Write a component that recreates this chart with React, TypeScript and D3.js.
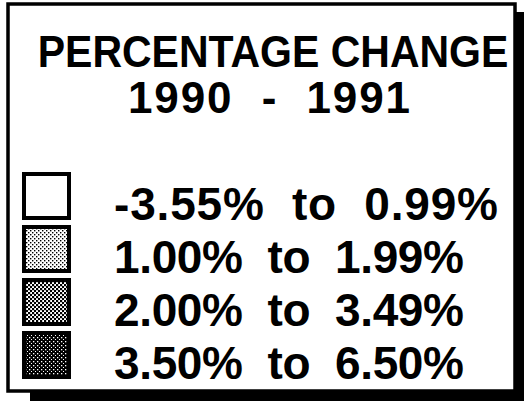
import React from 'react';
import * as d3 from 'd3';

const titleLines = ['PERCENTAGE CHANGE', '1990  -  1991'];
const classes = ['c1', 'c2', 'c3', 'c4'];
const lows = ['-3.55%', '1.00%', '2.00%', '3.50%'];
const highs = ['0.99%', '1.99%', '3.49%', '6.50%'];
const fills = ['#ffffff', 'url(#dotLight)', 'url(#dotMid)', 'url(#dotDark)'];

const W = 527;
const H = 402;
const font = '"Liberation Sans", Arial, Helvetica, sans-serif';

const App = () => {
  // baseline of each legend row
  const y = d3.scalePoint().domain(classes).range([220, 379]);
  const sw = 47;

  return (
    <svg width={W} height={H} style={{ position: 'absolute', left: 0, top: 0, background: '#fff' }}>
      <defs>
        <pattern id="dotLight" width="4" height="4" patternUnits="userSpaceOnUse">
          <rect width="4" height="4" fill="#fff" />
          <rect x="0" y="0" width="1.4" height="1.4" fill="#000" />
          <rect x="2" y="2" width="1.4" height="1.4" fill="#000" />
        </pattern>
        <pattern id="dotMid" width="4" height="4" patternUnits="userSpaceOnUse">
          <rect width="4" height="4" fill="#fff" />
          <rect x="0" y="0" width="2.2" height="2.2" fill="#000" />
          <rect x="2" y="2" width="2.2" height="2.2" fill="#000" />
        </pattern>
        <pattern id="dotDark" width="4" height="4" patternUnits="userSpaceOnUse">
          <rect width="4" height="4" fill="#000" />
          <rect x="1" y="1" width="1.3" height="1.3" fill="#fff" />
          <rect x="3" y="3" width="1" height="1" fill="#fff" />
        </pattern>
      </defs>

      {/* drop shadow */}
      <rect x={514} y={12} width={10} height={389} fill="#000" />
      <rect x={30} y={391} width={494} height={10} fill="#000" />
      {/* frame */}
      <rect x={8} y={4} width={507} height={387} fill="#fff" stroke="#000" strokeWidth={3.5} />

      <g fontFamily={font} fontWeight="bold" fill="#000" textAnchor="middle">
        {/* title is a little condensed in the original: stretch it vertically instead of squeezing */}
        <text transform="translate(273,67) scale(1,1.1)" fontSize={41}>{titleLines[0]}</text>
        <text x={269} y={113} fontSize={44} style={{ whiteSpace: 'pre' }} textLength={282} lengthAdjust="spacing">{titleLines[1]}</text>
      </g>

      {classes.map((c, i) => (
        <g key={c}>
          <rect x={24} y={y(c)! - sw + 1} width={sw - 2} height={sw - 3} fill={fills[i]} stroke="#000" strokeWidth={4} />
          <text
            x={114}
            y={y(c)}
            fontFamily={font}
            fontWeight="bold"
            fontSize={46}
            style={{ whiteSpace: 'pre' }}
            textLength={i === 0 ? 384 : 350}
            lengthAdjust="spacing"
          >
            {`${lows[i]}  to  ${highs[i]}`}
          </text>
        </g>
      ))}
    </svg>
  );
};

export default App;
